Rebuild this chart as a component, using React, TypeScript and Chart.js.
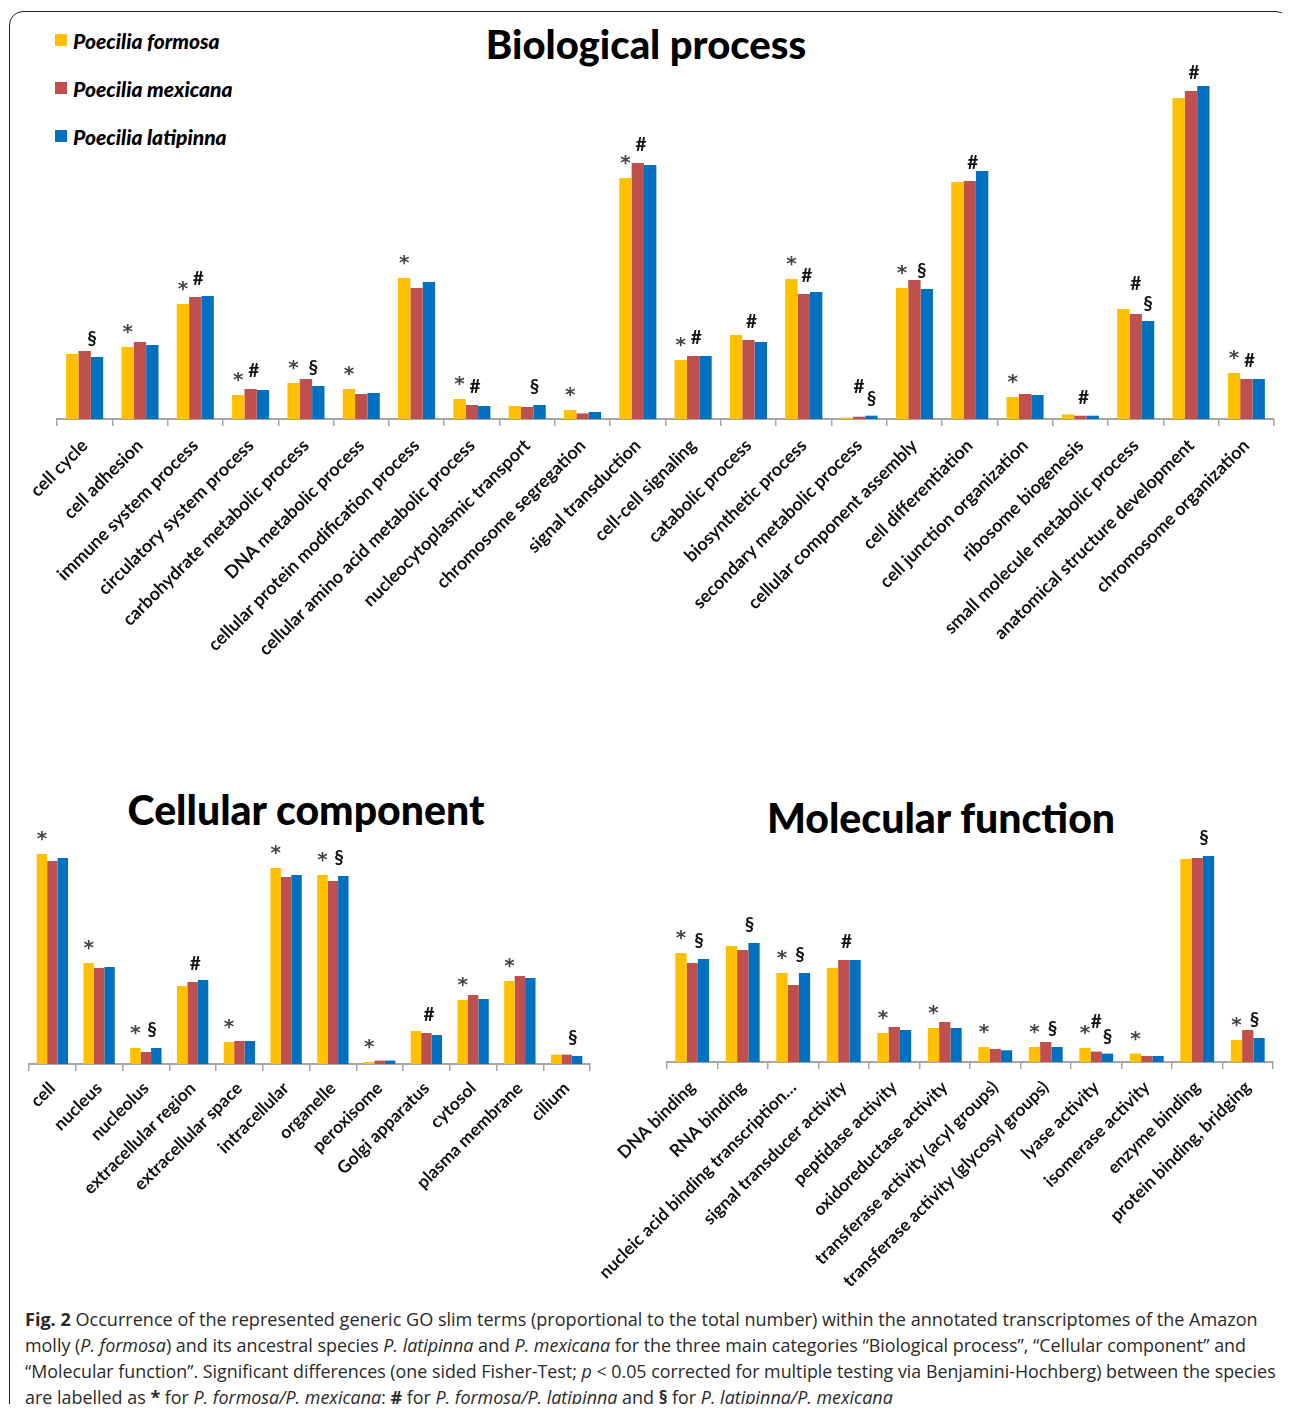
import React, { useEffect, useLayoutEffect, useRef } from "react";
import { Chart, registerables } from "chart.js";

Chart.register(...registerables);

const seriesNames = ["Poecilia formosa", "Poecilia mexicana", "Poecilia latipinna"];
const seriesColors = ["#FFC000", "#C0504D", "#0070C0"];
const markSymbols = ["*", "#", "§"]; // drawn above formosa, mexicana, latipinna bars respectively

// Biological process
const bpLabels = ["cell cycle", "cell adhesion", "immune system process", "circulatory system process", "carbohydrate metabolic process", "DNA metabolic process", "cellular protein modification process", "cellular amino acid metabolic process", "nucleocytoplasmic transport", "chromosome segregation", "signal transduction", "cell-cell signaling", "catabolic process", "biosynthetic process", "secondary metabolic process", "cellular component assembly", "cell differentiation", "cell junction organization", "ribosome biogenesis", "small molecule metabolic process", "anatomical structure development", "chromosome organization"];
const bpFormosa = [6.5, 7.2, 11.5, 2.4, 3.6, 3.0, 14.1, 2.0, 1.3, 0.9, 24.1, 5.9, 8.4, 14.0, 0.13, 13.1, 23.7, 2.2, 0.46, 11.0, 32.1, 4.6];
const bpMexicana = [6.8, 7.7, 12.2, 3.0, 4.0, 2.5, 13.1, 1.4, 1.2, 0.56, 25.6, 6.3, 7.9, 12.5, 0.23, 13.9, 23.8, 2.5, 0.33, 10.5, 32.8, 4.0];
const bpLatipinna = [6.2, 7.4, 12.3, 2.9, 3.3, 2.6, 13.7, 1.3, 1.4, 0.7, 25.4, 6.3, 7.7, 12.7, 0.33, 13.0, 24.8, 2.4, 0.33, 9.8, 33.3, 4.0];
const bpMarks = ["§", "*", "*#", "*#", "*§", "*", "*", "*#", "§", "*", "*#", "*#", "#", "*#", "#§", "*§", "#", "*", "#", "#§", "#", "*#"];

// Cellular component
const ccLabels = ["cell", "nucleus", "nucleolus", "extracellular region", "extracellular space", "intracellular", "organelle", "peroxisome", "Golgi apparatus", "cytosol", "plasma membrane", "cilium"];
const ccFormosa = [21.0, 10.1, 1.6, 7.8, 2.2, 19.6, 18.9, 0.2, 3.3, 6.4, 8.3, 0.94];
const ccMexicana = [20.3, 9.6, 1.2, 8.2, 2.3, 18.7, 18.3, 0.34, 3.1, 6.9, 8.8, 0.94];
const ccLatipinna = [20.6, 9.7, 1.6, 8.4, 2.3, 18.9, 18.8, 0.34, 2.9, 6.5, 8.6, 0.8];
const ccMarks = ["*", "*", "*§", "#", "*", "*", "*§", "*", "#", "*", "*", "§"];

// Molecular function
const mfLabels = ["DNA binding", "RNA binding", "nucleic acid binding transcription…", "signal transducer activity", "peptidase activity", "oxidoreductase activity", "transferase activity (acyl groups)", "transferase activity (glycosyl groups)", "lyase activity", "isomerase activity", "enzyme binding", "protein binding, bridging"];
const mfFormosa = [10.9, 11.6, 8.9, 9.4, 2.9, 3.4, 1.5, 1.5, 1.4, 0.84, 20.3, 2.2];
const mfMexicana = [9.9, 11.2, 7.7, 10.2, 3.5, 4.0, 1.3, 2.0, 1.04, 0.6, 20.4, 3.2];
const mfLatipinna = [10.3, 11.9, 8.9, 10.2, 3.2, 3.4, 1.17, 1.5, 0.84, 0.6, 20.6, 2.4];
const mfMarks = ["*§", "§", "*§", "#", "*", "*", "*", "*§", "*#§", "*", "§", "*§"];

const marksPlugin = {
  id: "sigMarks",
  afterDatasetsDraw(chart: any, _args: any, opts: any) {
    const marks: string[] = opts.marks || [];
    const ctx = chart.ctx;
    ctx.save();
    ctx.textAlign = "center";
    ctx.textBaseline = "middle";
    marks.forEach((m, i) => {
      const both = m.includes("#") && m.includes("§");
      markSymbols.forEach((sym, di) => {
        if (!m.includes(sym)) return;
        const bar: any = chart.getDatasetMeta(di).data[i];
        if (!bar) return;
        const w = bar.width || 12;
        if (sym === "*") {
          ctx.font = "bold 20px 'DejaVu Sans'";
          ctx.fillStyle = "#444";
          ctx.fillText(sym, bar.x, bar.y - 14);
        } else if (sym === "#") {
          ctx.font = "bold 19px Lato";
          ctx.fillStyle = "#111";
          if (both) ctx.fillText(sym, bar.x, bar.y - 30);
          else ctx.fillText(sym, bar.x + w * 0.25, bar.y - 18);
        } else {
          ctx.font = "bold 19px Lato";
          ctx.fillStyle = "#111";
          if (both) ctx.fillText(sym, bar.x, bar.y - 17);
          else ctx.fillText(sym, bar.x - w * 0.4, bar.y - 18);
        }
      });
    });
    ctx.restore();
  },
};

type PanelProps = {
  labels: string[];
  values: number[][];
  marks: string[];
  yMax: number;
  left: number;
  top: number;
  width: number;
  height: number;
  pad: { left: number; right: number; top: number };
  axisHeight: number;
  fontSize: number;
  tickPad: number;
};

function Panel(p: PanelProps) {
  const ref = useRef<HTMLCanvasElement | null>(null);
  useEffect(() => {
    if (!ref.current) return;
    const chart = new Chart(ref.current, {
      type: "bar",
      data: {
        labels: p.labels,
        datasets: p.values.map((v, i) => ({
          label: seriesNames[i],
          data: v,
          backgroundColor: seriesColors[i],
          borderWidth: 0,
        })),
      },
      options: {
        animation: false,
        responsive: false,
        maintainAspectRatio: false,
        layout: { padding: { left: p.pad.left, right: p.pad.right, top: p.pad.top, bottom: 0 } },
        datasets: { bar: { categoryPercentage: 0.67, barPercentage: 1 } },
        plugins: {
          legend: { display: false },
          tooltip: { enabled: false },
          title: { display: false },
          sigMarks: { marks: p.marks },
        } as any,
        scales: {
          x: {
            grid: { display: true, drawOnChartArea: false, drawTicks: true, tickLength: 7, color: "#a6a6a6", lineWidth: 1.5, offset: true },
            border: { display: true, color: "#a6a6a6", width: 2 },
            ticks: {
              autoSkip: false,
              maxRotation: 45,
              minRotation: 45,
              padding: p.tickPad,
              color: "#111",
              font: { family: "Lato", size: p.fontSize, weight: "bold" },
            },
            afterFit: (s: any) => {
              s.height = p.axisHeight;
              s.paddingLeft = 0;
              s.paddingRight = 0;
            },
          },
          y: { display: false, min: 0, max: p.yMax },
        },
      },
      plugins: [marksPlugin as any],
    });
    return () => chart.destroy();
  }, []);
  return (
    <canvas
      ref={ref}
      width={p.width}
      height={p.height}
      style={{ position: "absolute", left: p.left - 8, top: p.top - 8, width: p.width, height: p.height }}
    />
  );
}

function Title({ text, cx, cy, size }: { text: string; cx: number; cy: number; size: number }) {
  return (
    <div
      style={{
        position: "absolute",
        left: cx - 300 - 8,
        top: cy - 30 - 8,
        width: 600,
        height: 60,
        lineHeight: "60px",
        textAlign: "center",
        fontFamily: "Lato",
        fontWeight: 900,
        fontSize: size,
        color: "#000",
        whiteSpace: "nowrap",
      }}
    >
      {text}
    </div>
  );
}

const capLine: React.CSSProperties = {
  position: "absolute",
  left: 25 - 8,
  height: 26,
  lineHeight: "26px",
  whiteSpace: "nowrap",
  fontFamily: "'Open Sans', sans-serif",
  fontSize: 18,
  color: "#2a2a2a",
  transformOrigin: "0 50%",
};

// target pixel widths of the four caption lines
const captionWidths = [1233, 1221, 1251, 868];

function Caption() {
  const refs = [useRef<HTMLDivElement | null>(null), useRef<HTMLDivElement | null>(null), useRef<HTMLDivElement | null>(null), useRef<HTMLDivElement | null>(null)];
  useLayoutEffect(() => {
    refs.forEach((r, i) => {
      const el = r.current;
      if (!el) return;
      el.style.transform = "none";
      const w = el.scrollWidth;
      if (w > 0) el.style.transform = `scaleX(${captionWidths[i] / w})`;
    });
  }, []);
  return (
    <>
      <div ref={refs[0]} style={{ ...capLine, top: 1306 - 8 }}>
        <b>Fig. 2</b> Occurrence of the represented generic GO slim terms (proportional to the total number) within the annotated transcriptomes of the Amazon
      </div>
      <div ref={refs[1]} style={{ ...capLine, top: 1332 - 8 }}>
        molly (<i>P. formosa</i>) and its ancestral species <i>P. latipinna</i> and <i>P. mexicana</i> for the three main categories “Biological process”, “Cellular component” and
      </div>
      <div ref={refs[2]} style={{ ...capLine, top: 1358 - 8 }}>
        “Molecular function”. Significant differences (one sided Fisher-Test; <i>p</i> &lt; 0.05 corrected for multiple testing via Benjamini-Hochberg) between the species
      </div>
      <div ref={refs[3]} style={{ ...capLine, top: 1384 - 8 }}>
        are labelled as <b>*</b> for <i>P. formosa/P. mexicana</i>; <b>#</b> for <i>P. formosa/P. latipinna</i> and <b>§</b> for <i>P. latipinna/P. mexicana</i>
      </div>
    </>
  );
}

export default function App() {
  useEffect(() => {
    document.documentElement.style.overflow = "hidden";
  }, []);
  return (
    <div style={{ position: "relative", width: 1274, height: 1396, background: "#fff" }}>
      <div
        style={{
          position: "absolute",
          left: 9 - 8,
          top: 11 - 8,
          width: 1281,
          height: 1420,
          border: "1.5px solid #222",
          borderRadius: 14,
          boxSizing: "border-box",
        }}
      />
      {seriesNames.map((n, i) => (
        <div key={n} style={{ position: "absolute", left: 55 - 8, top: 40 + i * 48 - 8 - 14, height: 28, display: "flex", alignItems: "center" }}>
          <div style={{ width: 12, height: 12, background: seriesColors[i], marginRight: 6 }} />
          <span style={{ fontFamily: "Lato", fontStyle: "italic", fontWeight: 900, fontSize: 21, color: "#000" }}>{n}</span>
        </div>
      ))}
      <Title text="Biological process" cx={646} cy={44} size={40} />
      <Title text="Cellular component" cx={306} cy={810} size={41} />
      <Title text="Molecular function" cx={941} cy={818} size={41} />

      <Panel
        labels={bpLabels}
        values={[bpFormosa, bpMexicana, bpLatipinna]}
        marks={bpMarks}
        yMax={36}
        left={10}
        top={40}
        width={1276}
        height={660}
        pad={{ left: 47, right: 12, top: 19 }}
        axisHeight={281}
        fontSize={18}
        tickPad={9}
      />
      <Panel
        labels={ccLabels}
        values={[ccFormosa, ccMexicana, ccLatipinna]}
        marks={ccMarks}
        yMax={22}
        left={10}
        top={820}
        width={600}
        height={420}
        pad={{ left: 19, right: 20, top: 24 }}
        axisHeight={176}
        fontSize={17.5}
        tickPad={7}
      />
      <Panel
        labels={mfLabels}
        values={[mfFormosa, mfMexicana, mfLatipinna]}
        marks={mfMarks}
        yMax={22}
        left={590}
        top={820}
        width={696}
        height={470}
        pad={{ left: 77, right: 13, top: 22 }}
        axisHeight={228}
        fontSize={17.5}
        tickPad={8}
      />
      <Caption />
    </div>
  );
}
